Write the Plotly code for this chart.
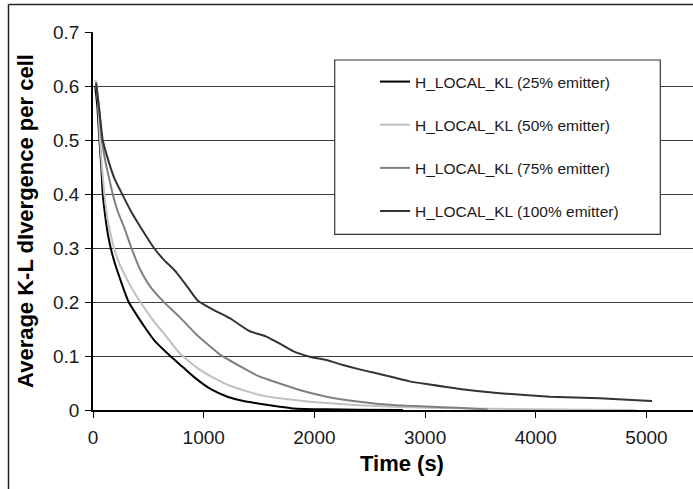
import plotly.graph_objects as go

# ---------------- data ----------------
series_names = [
    "H_LOCAL_KL (25% emitter)",
    "H_LOCAL_KL (50% emitter)",
    "H_LOCAL_KL (75% emitter)",
    "H_LOCAL_KL (100% emitter)",
]

t_25 = [20, 40, 58, 75, 88, 110, 135, 160, 200, 241, 280, 322, 407, 482, 557, 693, 814, 919,
        1069, 1220, 1350, 1506, 1687, 1807, 2108, 2400, 2800]
v_25 = [0.60, 0.56, 0.50, 0.45, 0.40, 0.36, 0.325, 0.30, 0.27, 0.245, 0.222, 0.20, 0.172,
        0.149, 0.128, 0.101, 0.079, 0.060, 0.038, 0.024, 0.017, 0.0115, 0.006, 0.003,
        0.0012, 0.0005, 0.0]

t_50 = [24, 45, 63, 85, 103, 130, 160, 190, 240, 300, 360, 427, 542, 663, 783, 934, 1069,
        1264, 1506, 1687, 1958, 2258, 2560, 2861, 3200, 3600, 4000, 4500, 4900]
v_50 = [0.611, 0.57, 0.50, 0.44, 0.40, 0.355, 0.325, 0.30, 0.27, 0.245, 0.222, 0.20, 0.1665,
        0.136, 0.105, 0.079, 0.062, 0.043, 0.0278, 0.0216, 0.0154, 0.0105, 0.0074, 0.005,
        0.0035, 0.0022, 0.0012, 0.0005, 0.0]

t_75 = [30, 58, 80, 118, 150, 178, 223, 284, 347, 422, 512, 632, 783, 934, 1145, 1355, 1506,
        1687, 1867, 2108, 2409, 2710, 3012, 3300, 3565]
v_75 = [0.607, 0.553, 0.50, 0.454, 0.425, 0.40, 0.368, 0.337, 0.30, 0.262, 0.230, 0.2017,
        0.172, 0.140, 0.103, 0.078, 0.0617, 0.049, 0.037, 0.0247, 0.0154, 0.0093, 0.0065,
        0.004, 0.001]

t_100 = [27, 58, 88, 133, 193, 268, 343, 434, 551, 632, 753, 860, 945, 1084, 1235, 1415, 1566,
         1687, 1807, 1958, 2108, 2258, 2409, 2560, 2710, 2861, 3012, 3313, 3674, 4126, 4578,
         5000, 5050]
v_100 = [0.605, 0.553, 0.50, 0.466, 0.429, 0.398, 0.368, 0.337, 0.30, 0.280, 0.255, 0.226,
         0.203, 0.186, 0.170, 0.146, 0.136, 0.123, 0.109, 0.0986, 0.0925, 0.0833, 0.0752,
         0.0679, 0.0605, 0.0530, 0.048, 0.039, 0.031, 0.0246, 0.0216, 0.017, 0.0167]

series_t = [t_25, t_50, t_75, t_100]
series_v = [v_25, v_50, v_75, v_100]
series_colors = ["#000000", "#c0c0c0", "#808080", "#333333"]

x_title = "Time (s)"
y_title = "Average K-L dIvergence per cell"

# ---------------- figure ----------------
W, H = 693, 489
ML, MR, MT, MB = 93, 0, 32, 79
PW, PH = W - ML - MR, H - MT - MB


def px_x(p):
    return (p - ML) / PW


def px_y(p):
    return (H - MB - p) / PH


FONT = "Liberation Sans, Arial, sans-serif"

fig = go.Figure()
for i, (name, tt, vv, col) in enumerate(zip(series_names, series_t, series_v, series_colors)):
    fig.add_trace(go.Scatter(
        x=tt, y=vv, mode="lines", name=name,
        line=dict(color=col, width=2, shape="spline", smoothing=0.5),
        legendgroup=f"g{i}",
    ))

fig.update_layout(
    width=W, height=H,
    margin=dict(l=ML, r=MR, t=MT, b=MB, autoexpand=False),
    paper_bgcolor="white", plot_bgcolor="white",
    font=dict(family=FONT, color="#1a1a1a", size=19),
    showlegend=True,
    legend=dict(
        x=px_x(375), y=px_y(65), xanchor="left", yanchor="top",
        bgcolor="rgba(0,0,0,0)", borderwidth=0,
        font=dict(size=15.5, family=FONT, color="#1a1a1a"),
        tracegroupgap=20, traceorder="grouped",
    ),
    xaxis=dict(
        range=[0, 5420], dtick=1000, tick0=0,
        showgrid=False, zeroline=False,
        showline=True, linecolor="#000000", linewidth=1.5,
        ticks="outside", ticklen=6, tickcolor="#000000", tickwidth=1,
        ticklabelstandoff=3,
        tickfont=dict(size=19, family=FONT, color="#1a1a1a"),
    ),
    yaxis=dict(
        range=[0, 0.7], dtick=0.1, tick0=0,
        showgrid=True, gridcolor="#3a3a3a", gridwidth=1,
        zeroline=False,
        showline=True, linecolor="#000000", linewidth=1.5,
        ticks="outside", ticklen=6, tickcolor="#000000", tickwidth=1,
        ticklabelstandoff=2,
        tickfont=dict(size=19, family=FONT, color="#1a1a1a"),
        title=dict(text=f"<b>{y_title}</b>", font=dict(size=22, family=FONT, color="#000000"),
                   standoff=13),
    ),
    annotations=[
        dict(text=f"<b>{x_title}</b>", xref="paper", yref="paper",
             x=px_x(402), y=px_y(463), xanchor="center", yanchor="middle",
             showarrow=False, font=dict(size=22, family=FONT, color="#000000")),
    ],
    shapes=[
        # legend box
        dict(type="rect", xref="paper", yref="paper",
             x0=px_x(334.7), x1=px_x(660.3), y0=px_y(234.3), y1=px_y(60),
             line=dict(color="#333333", width=1.2), fillcolor="white", layer="above"),
        # outer chart frame (left and top edges visible)
        dict(type="line", xref="paper", yref="paper",
             x0=px_x(8.5), x1=px_x(8.5), y0=px_y(4.5), y1=px_y(495),
             line=dict(color="#222222", width=1.5)),
        dict(type="line", xref="paper", yref="paper",
             x0=px_x(8.5), x1=px_x(700), y0=px_y(4.5), y1=px_y(4.5),
             line=dict(color="#222222", width=1.5)),
    ],
)

fig.write_html(
    "out.html",
    config={"displayModeBar": False},
    post_script="document.body.style.margin='0';document.body.style.overflow='hidden';",
)
